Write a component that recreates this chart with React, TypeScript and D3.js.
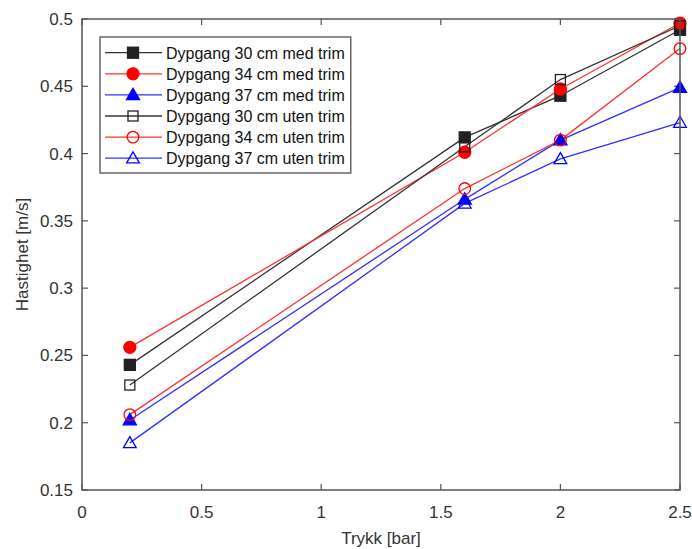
import React, { useRef, useEffect } from 'react';
import * as d3 from 'd3';

const pressure = [0.2, 1.6, 2, 2.5];

const d30med = [0.243, 0.412, 0.443, 0.492];
const d34med = [0.256, 0.401, 0.448, 0.497];
const d37med = [0.202, 0.366, 0.41, 0.449];
const d30uten = [0.228, 0.405, 0.455, 0.495];
const d34uten = [0.206, 0.374, 0.41, 0.478];
const d37uten = [0.185, 0.363, 0.396, 0.423];

const seriesNames = [
  'Dypgang 30 cm med trim',
  'Dypgang 34 cm med trim',
  'Dypgang 37 cm med trim',
  'Dypgang 30 cm uten trim',
  'Dypgang 34 cm uten trim',
  'Dypgang 37 cm uten trim',
];

const xTicks = [0, 0.5, 1, 1.5, 2, 2.5];
const yTicks = [0.15, 0.2, 0.25, 0.3, 0.35, 0.4, 0.45, 0.5];

const FONT = '"Liberation Sans", Arial, sans-serif';

const App = () => {
  const svgRef = useRef(null);
  const width = 692;
  const height = 549;

  useEffect(() => {
    const svg = d3.select(svgRef.current);
    svg.selectAll('*').remove();

    const margin = { top: 19, right: 12, bottom: 59, left: 82 };
    const innerWidth = width - margin.left - margin.right;
    const innerHeight = height - margin.top - margin.bottom;

    const xScale = d3.scaleLinear().domain([0, 2.5]).range([0, innerWidth]);
    const yScale = d3.scaleLinear().domain([0.15, 0.5]).range([innerHeight, 0]);

    const series = [
      { name: seriesNames[0], values: d30med, color: '#222', line: '#333', marker: 'square', filled: true },
      { name: seriesNames[1], values: d34med, color: '#ff0000', line: '#ff3030', marker: 'circle', filled: true },
      { name: seriesNames[2], values: d37med, color: '#0000ff', line: '#3030ff', marker: 'triangle', filled: true },
      { name: seriesNames[3], values: d30uten, color: '#222', line: '#333', marker: 'square', filled: false },
      { name: seriesNames[4], values: d34uten, color: '#ff0000', line: '#ff3030', marker: 'circle', filled: false },
      { name: seriesNames[5], values: d37uten, color: '#0000ff', line: '#3030ff', marker: 'triangle', filled: false },
    ];

    svg.append('rect').attr('width', width).attr('height', height).attr('fill', '#fff');

    const g = svg.append('g').attr('transform', `translate(${margin.left}, ${margin.top})`);

    const axisColor = '#555';
    const tickLen = 6;

    // ticks on all four sides, pointing in
    xTicks.forEach(t => {
      const x = xScale(t);
      g.append('line').attr('x1', x).attr('x2', x).attr('y1', innerHeight).attr('y2', innerHeight - tickLen)
        .attr('stroke', axisColor).attr('stroke-width', 1.2);
      g.append('line').attr('x1', x).attr('x2', x).attr('y1', 0).attr('y2', tickLen)
        .attr('stroke', axisColor).attr('stroke-width', 1.2);
      g.append('text')
        .attr('x', x)
        .attr('y', innerHeight + 28)
        .attr('text-anchor', 'middle')
        .attr('font-family', FONT)
        .attr('font-size', 17)
        .attr('fill', '#333')
        .text(t);
    });

    yTicks.forEach(t => {
      const y = yScale(t);
      g.append('line').attr('x1', 0).attr('x2', tickLen).attr('y1', y).attr('y2', y)
        .attr('stroke', axisColor).attr('stroke-width', 1.2);
      g.append('line').attr('x1', innerWidth).attr('x2', innerWidth - tickLen).attr('y1', y).attr('y2', y)
        .attr('stroke', axisColor).attr('stroke-width', 1.2);
      g.append('text')
        .attr('x', -9)
        .attr('y', y + 6)
        .attr('text-anchor', 'end')
        .attr('font-family', FONT)
        .attr('font-size', 17)
        .attr('fill', '#333')
        .text(t);
    });

    const lineGen = d3
      .line()
      .x((d, i) => xScale(pressure[i]))
      .y(d => yScale(d));

    const drawMarker = (sel, s, x, y) => {
      const sw = 1.3;
      if (s.marker === 'square') {
        const sz = s.filled ? 11 : 10;
        sel.append('rect')
          .attr('x', x - sz / 2).attr('y', y - sz / 2).attr('width', sz).attr('height', sz)
          .attr('fill', s.filled ? s.color : 'none').attr('stroke', s.color).attr('stroke-width', sw);
      } else if (s.marker === 'circle') {
        sel.append('circle')
          .attr('cx', x).attr('cy', y).attr('r', s.filled ? 6 : 5.8)
          .attr('fill', s.filled ? s.color : 'none').attr('stroke', s.color).attr('stroke-width', sw);
      } else {
        const sym = d3.symbol().type(d3.symbolTriangle).size(s.filled ? 75 : 70);
        sel.append('path')
          .attr('d', sym())
          .attr('transform', `translate(${x}, ${y + 1})`)
          .attr('fill', s.filled ? s.color : 'none').attr('stroke', s.color).attr('stroke-width', sw);
      }
    };

    series.forEach(s => {
      g.append('path')
        .attr('d', lineGen(s.values))
        .attr('fill', 'none')
        .attr('stroke', s.line)
        .attr('stroke-width', 1.3);
    });

    series.forEach(s => {
      const mg = g.append('g');
      s.values.forEach((v, i) => drawMarker(mg, s, xScale(pressure[i]), yScale(v)));
    });

    // axes box
    g.append('rect')
      .attr('width', innerWidth)
      .attr('height', innerHeight)
      .attr('fill', 'none')
      .attr('stroke', axisColor)
      .attr('stroke-width', 1.5);

    // labels
    svg.append('text')
      .attr('x', margin.left + innerWidth / 2)
      .attr('y', 544)
      .attr('text-anchor', 'middle')
      .attr('font-family', FONT)
      .attr('font-size', 17)
      .attr('fill', '#333')
      .text('Trykk [bar]');

    svg.append('text')
      .attr('transform', `translate(28, ${margin.top + innerHeight / 2}) rotate(-90)`)
      .attr('text-anchor', 'middle')
      .attr('font-family', FONT)
      .attr('font-size', 17)
      .attr('fill', '#333')
      .text('Hastighet [m/s]');

    // legend
    const lx = 100;
    const ly = 37;
    const rowH = 21.1;
    const leg = svg.append('g');
    const box = leg.append('rect')
      .attr('x', lx).attr('y', ly).attr('height', 136)
      .attr('fill', '#fff').attr('stroke', '#666').attr('stroke-width', 1.5);
    let maxW = 0;
    series.forEach((s, i) => {
      const cy = ly + 15.7 + i * rowH;
      leg.append('line').attr('x1', lx + 5).attr('x2', lx + 62).attr('y1', cy).attr('y2', cy)
        .attr('stroke', s.line).attr('stroke-width', 1.3);
      drawMarker(leg, s, lx + 33, cy);
      const t = leg.append('text')
        .attr('x', lx + 66)
        .attr('y', cy + 6)
        .attr('font-family', FONT)
        .attr('font-size', 16)
        .attr('fill', '#111')
        .text(s.name);
      maxW = Math.max(maxW, t.node().getComputedTextLength());
    });
    box.attr('width', 66 + maxW + 6);
  }, []);

  return (
    <svg ref={svgRef} width={width} height={height} style={{ position: 'absolute', left: 0, top: 0 }} />
  );
};

export default App;
